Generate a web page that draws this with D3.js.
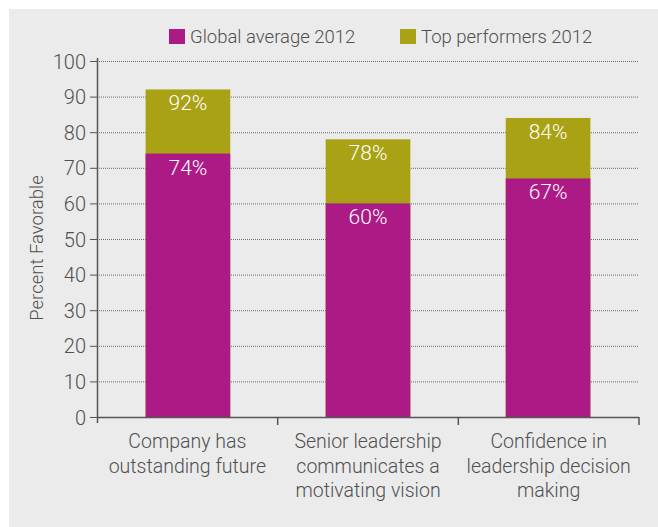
<!DOCTYPE html>
<html>
<head>
<meta charset="utf-8">
<script src="https://cdn.jsdelivr.net/npm/d3@7"></script>
<style>
  body { margin: 0; background: #fff; }
  svg text { font-family: "Roboto", "Liberation Sans", sans-serif; font-weight: 300; }
</style>
</head>
<body>
<svg id="canvas" width="658" height="527"></svg>
<script>
// chart data
var categories = [
  ["Company has", "outstanding future"],
  ["Senior leadership", "communicates a", "motivating vision"],
  ["Confidence in", "leadership decision", "making"]
];
var globalAvg = [74, 60, 67];
var topPerf = [92, 78, 84];
var seriesNames = ["Global average 2012", "Top performers 2012"];
var yTicks = [0, 10, 20, 30, 40, 50, 60, 70, 80, 90, 100];

var colors = ["#ac1a86", "#a8a214"];
var textColor = "#505050";

var svg = d3.select("#canvas"),
  width = +svg.attr("width"),
  height = +svg.attr("height");

// gray panel
svg.append("rect")
  .attr("x", 9).attr("y", 9)
  .attr("width", width - 9).attr("height", height - 9)
  .attr("fill", "#ebebeb");

var plotLeft = 97, plotRight = 639, plotTop = 61, plotBottom = 417;

var x = d3.scaleBand()
  .domain(d3.range(categories.length))
  .range([plotLeft, plotRight])
  .paddingInner(0.53)
  .paddingOuter(0.27);

// band boundaries for the x ticks (no padding)
var xEdges = d3.scaleLinear().domain([0, categories.length]).range([plotLeft, plotRight]);

var y = d3.scaleLinear().domain([0, 100]).range([plotBottom, plotTop]);

// dotted gridlines
svg.append("g")
  .selectAll("line")
  .data(yTicks.filter(function(d) { return d > 0; }))
  .join("line")
  .attr("x1", plotLeft).attr("x2", plotRight)
  .attr("y1", function(d) { return y(d) + 0.5; })
  .attr("y2", function(d) { return y(d) + 0.5; })
  .attr("stroke", "#6a6a6a")
  .attr("stroke-width", 1)
  .attr("stroke-dasharray", "1,1");

// bars: top performers behind, global average in front
var bars = svg.append("g");
bars.selectAll("rect.top")
  .data(topPerf)
  .join("rect")
  .attr("class", "top")
  .attr("x", function(d, i) { return x(i); })
  .attr("width", x.bandwidth())
  .attr("y", function(d) { return y(d); })
  .attr("height", function(d) { return y(0) - y(d); })
  .attr("fill", colors[1]);

bars.selectAll("rect.glob")
  .data(globalAvg)
  .join("rect")
  .attr("class", "glob")
  .attr("x", function(d, i) { return x(i); })
  .attr("width", x.bandwidth())
  .attr("y", function(d) { return y(d); })
  .attr("height", function(d) { return y(0) - y(d); })
  .attr("fill", colors[0]);

// value labels
function valueLabels(data) {
  svg.append("g")
    .selectAll("text")
    .data(data)
    .join("text")
    .attr("x", function(d, i) { return x(i) + x.bandwidth() / 2; })
    .attr("y", function(d) { return y(d) + 21; })
    .attr("text-anchor", "middle")
    .attr("fill", "#fff")
    .style("font-size", "21px")
    .text(function(d) { return d + "%"; });
}
valueLabels(topPerf);
valueLabels(globalAvg);

// y axis
var yAxis = svg.append("g")
  .attr("transform", "translate(" + plotLeft + ",0)")
  .call(d3.axisLeft(y).tickValues(yTicks).tickSize(7).tickPadding(4));
yAxis.select(".domain").remove();
yAxis.append("line")
  .attr("x1", 0.5).attr("x2", 0.5)
  .attr("y1", plotTop - 3).attr("y2", plotBottom + 6)
  .attr("stroke", "#555").attr("stroke-width", 1.5);
yAxis.selectAll(".tick line").attr("stroke", "#555");
yAxis.selectAll(".tick text")
  .attr("fill", textColor)
  .style("font-size", "20px")
  .attr("dy", "0.35em");

// x axis line and boundary ticks
svg.append("line")
  .attr("x1", plotLeft).attr("x2", plotRight)
  .attr("y1", plotBottom + 0.5).attr("y2", plotBottom + 0.5)
  .attr("stroke", "#555").attr("stroke-width", 1.5);
svg.append("g")
  .selectAll("line")
  .data(d3.range(1, categories.length + 1))
  .join("line")
  .attr("x1", function(d) { return xEdges(d); })
  .attr("x2", function(d) { return xEdges(d); })
  .attr("y1", plotBottom).attr("y2", plotBottom + 8)
  .attr("stroke", "#555").attr("stroke-width", 1.5);

// category labels
svg.append("g")
  .selectAll("text")
  .data(categories)
  .join("text")
  .attr("transform", function(d, i) {
    return "translate(" + (xEdges(i) + xEdges(i + 1)) / 2 + "," + (plotBottom + 31) + ")";
  })
  .attr("text-anchor", "middle")
  .attr("fill", textColor)
  .style("font-size", "19.5px")
  .selectAll("tspan")
  .data(function(d) { return d; })
  .join("tspan")
  .attr("x", 0)
  .attr("y", function(d, i) { return i * 24.5; })
  .text(function(d) { return d; });

// y axis title
svg.append("text")
  .attr("transform", "translate(43,248) rotate(-90)")
  .attr("text-anchor", "middle")
  .attr("fill", textColor)
  .style("font-size", "18.5px")
  .text("Percent Favorable");

// legend
var legendX = [169, 400];
var legend = svg.append("g")
  .selectAll("g")
  .data(seriesNames)
  .join("g")
  .attr("transform", function(d, i) { return "translate(" + legendX[i] + ",29)"; });
legend.append("rect")
  .attr("width", 16).attr("height", 15)
  .attr("fill", function(d, i) { return colors[i]; });
legend.append("text")
  .attr("x", 21).attr("y", 14)
  .attr("fill", textColor)
  .style("font-size", "18.5px")
  .text(function(d) { return d; });
</script>
</body>
</html>
